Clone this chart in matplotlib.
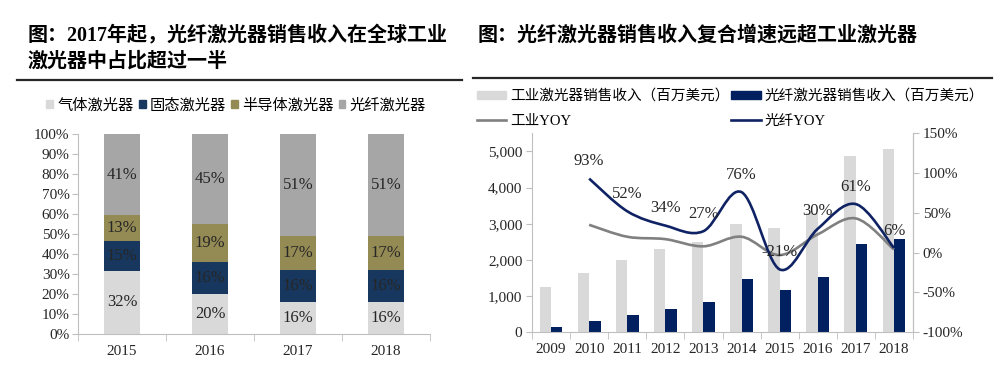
import numpy as np
import matplotlib
matplotlib.use('Agg')
import matplotlib.pyplot as plt
from matplotlib.path import Path
from matplotlib.patches import PathPatch, Patch
from matplotlib.lines import Line2D

plt.rcParams['font.family'] = ['Liberation Serif', 'Noto Sans CJK SC', 'DejaVu Sans']

# left chart: share of global industrial laser market
share_years = ['2015', '2016', '2017', '2018']
gas = [32, 20, 16, 16]
solid = [15, 16, 16, 16]
semi = [13, 19, 17, 17]
fiber = [41, 45, 51, 51]
share_names = ['气体激光器', '固态激光器', '半导体激光器', '光纤激光器']
share_colors = ['#d9d9d9', '#17375e', '#948a54', '#a6a6a6']

# right chart: revenue and yoy
years = ['2009', '2010', '2011', '2012', '2013', '2014', '2015', '2016', '2017', '2018']
ind_rev = [1240, 1650, 1990, 2300, 2490, 2980, 2870, 3300, 4870, 5060]
fib_rev = [160, 310, 480, 650, 830, 1470, 1160, 1520, 2440, 2590]
ind_yoy = [0.35, 0.20, 0.17, 0.08, 0.20, -0.03, 0.23, 0.43, 0.04]
fib_yoy = [0.93, 0.52, 0.34, 0.27, 0.76, -0.21, 0.30, 0.61, 0.06]

GRID = '#bfbfbf'
TXT = '#262626'


def smooth_path(x, y):
    # excel-like smoothed line as cubic bezier segments
    verts = [(x[0], y[0])]
    codes = [Path.MOVETO]
    n = len(x)
    for i in range(n - 1):
        a = i - 1 if i > 0 else i
        b = i + 2 if i + 2 < n else i + 1
        c1 = (x[i] + (x[i+1] - x[a]) / 6, y[i] + (y[i+1] - y[a]) / 6)
        c2 = (x[i+1] - (x[b] - x[i]) / 6, y[i+1] - (y[b] - y[i]) / 6)
        verts += [c1, c2, (x[i+1], y[i+1])]
        codes += [Path.CURVE4] * 3
    return Path(verts, codes)


fig = plt.figure(figsize=(10, 3.67), dpi=100)

# titles and rules
tkw = dict(fontsize=14.4, fontweight='bold', color='black', va='center', ha='left')
fig.text(0.028, 1 - 36/367, '图：2017年起，光纤激光器销售收入在全球工业', **tkw)
fig.text(0.028, 1 - 62/367, '激光器中占比超过一半', **tkw)
fig.text(0.478, 1 - 36/367, '图：光纤激光器销售收入复合增速远超工业激光器', **tkw)
fig.add_artist(Line2D([0.017, 0.462], [1 - 79.5/367] * 2, color='#262626', lw=1.6))
fig.add_artist(Line2D([0.473, 0.992], [1 - 78/367] * 2, color='#262626', lw=1.6))

# ---- left: 100% stacked bars
ax1 = fig.add_axes([0.078, 0.0899, 0.352, 0.545])
series = np.array([gas, solid, semi, fiber], dtype=float)
norm = series / series.sum(axis=0) * 100
x1 = np.arange(len(share_years))
bottom = np.zeros(len(share_years))
for k in range(4):
    ax1.bar(x1, norm[k], 0.41, bottom=bottom, color=share_colors[k], edgecolor='none')
    for j in range(len(share_years)):
        ax1.text(x1[j], bottom[j] + norm[k][j] / 2, f'{series[k][j]:.0f}%',
                 ha='center', va='center', fontsize=12, color=TXT)
    bottom += norm[k]
ax1.set_xlim(-0.5, 3.5)
ax1.set_ylim(0, 100)
ax1.set_yticks(np.arange(0, 101, 10))
ax1.set_yticklabels([f'{v}%' for v in range(0, 101, 10)])
ax1.set_xticks(x1)
ax1.set_xticklabels(share_years)
ax1.set_xticks(np.arange(-0.5, 4, 1), minor=True)
ax1.tick_params(axis='x', which='major', length=0, pad=8, labelsize=11, colors=TXT)
ax1.tick_params(axis='x', which='minor', length=5, color=GRID)
ax1.tick_params(axis='y', length=4, color=GRID, labelsize=11, labelcolor=TXT, pad=2)
for s in ['top', 'right']:
    ax1.spines[s].set_visible(False)
for s in ['left', 'bottom']:
    ax1.spines[s].set_color(GRID)

h1 = [Patch(color=c) for c in share_colors]
fig.legend(h1, share_names, loc='center', bbox_to_anchor=(0.236, 1 - 105.5/367), ncol=4,
           frameon=False, fontsize=11, handlelength=0.45, handleheight=0.45,
           handletextpad=0.25, columnspacing=0.35, borderpad=0, borderaxespad=0)

# ---- right: revenue bars + yoy lines
ax2 = fig.add_axes([0.532, 0.0945, 0.381, 0.5425])
x2 = np.arange(len(years))
ax2.bar(x2 - 0.15, ind_rev, 0.3, color='#d9d9d9', edgecolor='none')
ax2.bar(x2 + 0.15, fib_rev, 0.3, color='#002060', edgecolor='none')
ax2.set_xlim(-0.5, 9.5)
ax2.set_ylim(0, 5500)
ax2.set_yticks(np.arange(0, 5001, 1000))
ax2.set_yticklabels([f'{v:,}' for v in range(0, 5001, 1000)])
ax2.set_xticks(x2)
ax2.set_xticklabels(years)
ax2.set_xticks(np.arange(-0.5, 10, 1), minor=True)
ax2.tick_params(axis='x', which='major', length=0, pad=8, labelsize=11, colors=TXT)
ax2.tick_params(axis='x', which='minor', length=5, color=GRID)
ax2.tick_params(axis='y', length=4, color=GRID, labelsize=11, labelcolor=TXT, pad=3)
ax2.spines['top'].set_visible(False)
for s in ['left', 'bottom', 'right']:
    ax2.spines[s].set_color(GRID)

ax3 = ax2.twinx()
ax3.set_ylim(-1.0, 1.5)
ax3.set_yticks(np.arange(-1.0, 1.51, 0.5))
ax3.set_yticklabels([f'{v:.0f}%' for v in np.arange(-100, 151, 50)])
ax3.tick_params(axis='y', length=4, color=GRID, labelsize=11, labelcolor=TXT, pad=3)
for s in ['top', 'left', 'bottom']:
    ax3.spines[s].set_visible(False)
ax3.spines['right'].set_color(GRID)

xl = x2[1:]
ax3.add_patch(PathPatch(smooth_path(xl, ind_yoy), facecolor='none', edgecolor='#808080', lw=1.9))
ax3.add_patch(PathPatch(smooth_path(xl, fib_yoy), facecolor='none', edgecolor='#0f2263', lw=1.9))
for xi, v in zip(xl, fib_yoy):
    ax3.annotate(f'{v*100:.0f}%', (xi, v), xytext=(0, 12.5), textcoords='offset points',
                 ha='center', va='center', fontsize=12, color=TXT)

h2 = [Patch(color='#d9d9d9'), Line2D([], [], color='#808080', lw=1.9),
      Patch(color='#002060'), Line2D([], [], color='#0f2263', lw=1.9)]
l2 = ['工业激光器销售收入（百万美元）', '工业YOY', '光纤激光器销售收入（百万美元）', '光纤YOY']
fig.legend(h2, l2, loc='upper left', bbox_to_anchor=(0.477, 1 - 89/367), ncol=2,
           frameon=False, fontsize=10.5, handlelength=2.0, handleheight=0.5,
           handletextpad=0.3, columnspacing=0.1, labelspacing=0.8,
           borderpad=0, borderaxespad=0)

fig.savefig('out.png', dpi=100)
